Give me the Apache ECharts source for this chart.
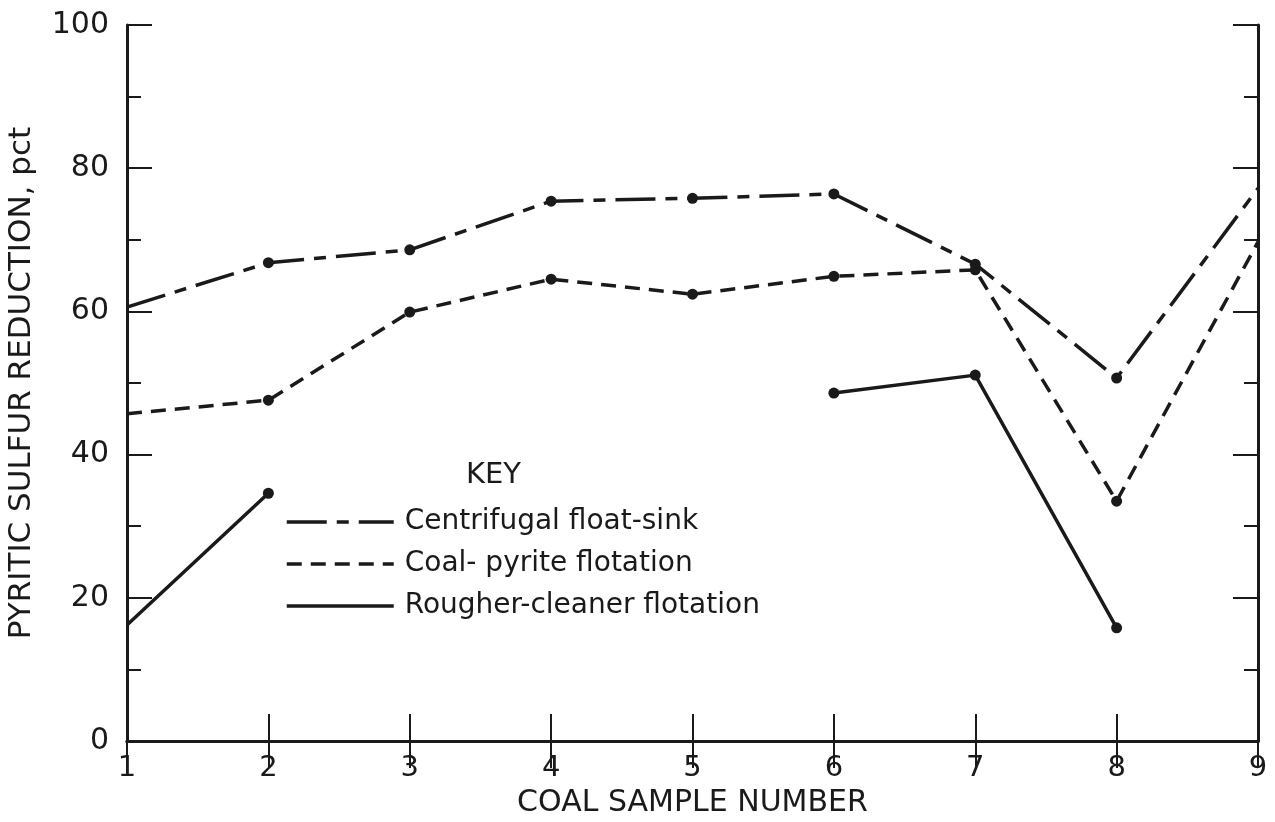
<!DOCTYPE html>
<html>
<head>
<meta charset="utf-8">
<script src="https://cdn.jsdelivr.net/npm/echarts@6/dist/echarts.min.js"></script>
<style>
  html, body { margin: 0; padding: 0; background: #fff; }
  #chart { width: 1275px; height: 822px; }
</style>
</head>
<body>
<div id="chart"></div>
<script>
var samples = ['1', '2', '3', '4', '5', '6', '7', '8', '9'];
var floatSink = [60.6, 66.8, 68.6, 75.4, 75.8, 76.4, 66.6, 50.7, 77.2];
var coalPyrite = [45.7, 47.6, 59.9, 64.5, 62.4, 64.9, 65.8, 33.5, 69.7];
var rougherCleaner = [16.2, 34.6, null, null, null, 48.6, 51.1, 15.8, null];
var names = ['Centrifugal float-sink', 'Coal- pyrite flotation', 'Rougher-cleaner flotation'];

var ink = '#1a1a1a';
var font = 'DejaVu Sans';

// no dot at the chart edges (samples 1 and 9)
function pts(arr) {
  return arr.map(function(v, i) {
    if(v === null) return null;
    if(i === 0 || i === arr.length - 1) return { value: v, symbol: 'none' };
    return v;
  });
}

function line(name, data, dash) {
  return {
    name: name,
    type: 'line',
    data: pts(data),
    symbol: 'circle',
    symbolSize: 11,
    itemStyle: { color: ink },
    lineStyle: { color: ink, width: 3.5, type: dash },
    z: 3
  };
}

var yAxisBase = {
  type: 'value',
  min: 0,
  max: 100,
  interval: 20,
  axisLine: { show: true, lineStyle: { color: ink, width: 3 } },
  axisTick: { show: true, inside: true, length: 25, lineStyle: { color: ink, width: 2 } },
  minorTick: { show: true, splitNumber: 2, length: 14, lineStyle: { color: ink, width: 2 } },
  splitLine: { show: false }
};

var xAxisBase = {
  type: 'category',
  data: samples,
  boundaryGap: false,
  axisLine: { show: true, lineStyle: { color: ink, width: 3 } },
  axisTick: { show: true, inside: true, length: 27, lineStyle: { color: ink, width: 2 } },
  splitLine: { show: false }
};

var chart = echarts.init(document.getElementById('chart'));
chart.setOption({
  backgroundColor: '#fff',
  animation: false,
  grid: { left: 127, right: 17, top: 25, bottom: 81, containLabel: false, outerBoundsMode: 'none' },
  xAxis: [
    Object.assign({}, xAxisBase, {
      position: 'bottom',
      name: 'COAL SAMPLE NUMBER',
      nameLocation: 'middle',
      nameGap: 47,
      nameTextStyle: { fontFamily: font, fontSize: 30, color: ink },
      axisLabel: { fontFamily: font, fontSize: 29, color: ink, margin: 13 }
    }),
    Object.assign({}, xAxisBase, {
      position: 'top',
      axisLabel: { show: false }
    })
  ],
  yAxis: [
    Object.assign({}, yAxisBase, {
      position: 'left',
      name: 'PYRITIC SULFUR REDUCTION, pct',
      nameLocation: 'middle',
      nameGap: 90,
      nameTextStyle: { fontFamily: font, fontSize: 31, color: ink },
      axisLabel: { fontFamily: font, fontSize: 30, color: ink, margin: 18 }
    }),
    Object.assign({}, yAxisBase, {
      position: 'right',
      axisLabel: { show: false }
    })
  ],
  legend: {
    orient: 'vertical',
    left: 280,
    top: 503,
    itemWidth: 107,
    itemHeight: 14,
    itemGap: 14,
    itemStyle: { opacity: 0 },
    lineStyle: { width: 3.5 },
    textStyle: { fontFamily: font, fontSize: 28, color: ink, padding: [0, 0, 0, 6] },
    data: names
  },
  graphic: [{
    type: 'text',
    left: 466,
    top: 461,
    style: { text: 'KEY', font: '29px "DejaVu Sans"', fill: ink }
  }],
  series: [
    line(names[0], floatSink, [40, 10, 12, 10]),
    line(names[1], coalPyrite, [15, 9]),
    line(names[2], rougherCleaner, 'solid')
  ]
});
</script>
</body>
</html>
